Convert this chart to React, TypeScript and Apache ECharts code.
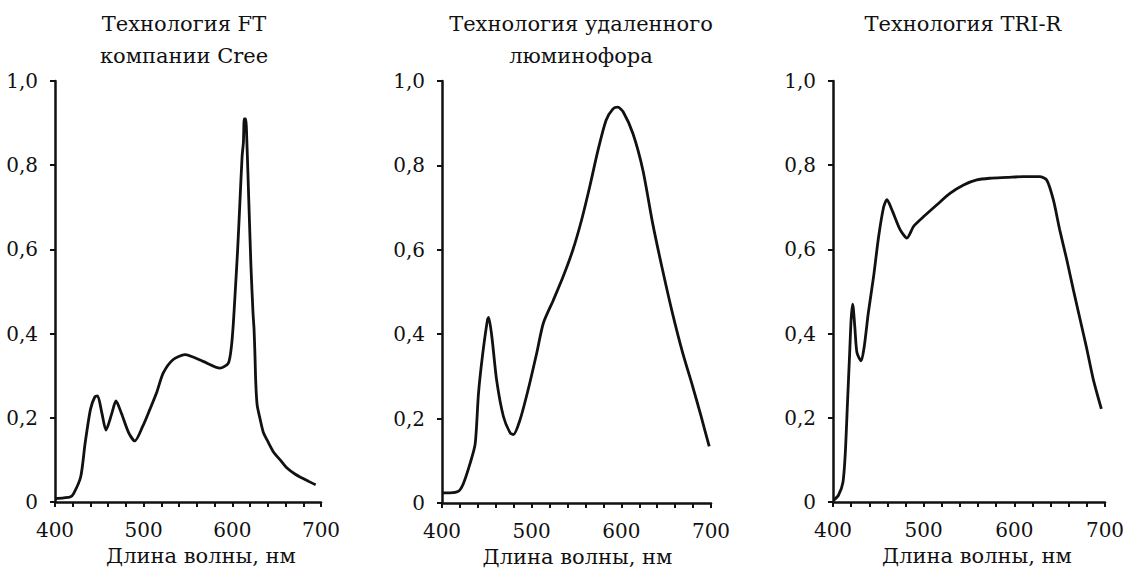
import React, { useEffect, useRef } from "react";
import * as echarts from "echarts";

// Panel titles
const panelTitles = [
  ["Технология FT", "компании Cree"],
  ["Технология удаленного", "люминофора"],
  ["Технология TRI-R"],
];
const xAxisName = "Длина волны, нм";
const xMajorTicks = [400, 500, 600, 700];

// Panel 1: Cree FT
const creeWl = [400, 410, 417, 421, 429, 434, 440, 445, 448, 453, 457.5, 464, 468.8, 475, 483, 490, 499, 507, 515, 522, 533, 546.6, 567, 586, 595.5, 599, 601, 603, 606, 608.5, 611, 612.5, 613.5, 615, 616.5, 618.5, 621, 623.3, 624.5, 625.5, 626.5, 628, 631, 635, 639, 646, 654, 662, 671, 686, 694];
const creeVal = [0.008, 0.01, 0.012, 0.02, 0.06, 0.14, 0.22, 0.25, 0.252, 0.21, 0.171, 0.21, 0.24, 0.21, 0.165, 0.145, 0.18, 0.22, 0.262, 0.306, 0.338, 0.35, 0.334, 0.318, 0.33, 0.37, 0.42, 0.49, 0.6, 0.71, 0.82, 0.855, 0.91, 0.91, 0.85, 0.72, 0.56, 0.45, 0.41, 0.35, 0.28, 0.23, 0.2, 0.165, 0.148, 0.12, 0.1, 0.08, 0.066, 0.049, 0.041];

// Panel 2: remote phosphor
const remoteWl = [400, 409, 418.5, 424, 431.5, 437, 440.7, 445.5, 450.7, 452, 455.6, 461, 468.5, 476, 479.6, 487, 496, 505.6, 513, 524, 535, 546, 555.6, 564.8, 574, 583, 590.7, 596, 602, 613, 624, 635, 646, 657, 668.5, 679.6, 689, 698];
const remoteVal = [0.024, 0.024, 0.028, 0.047, 0.095, 0.14, 0.26, 0.355, 0.434, 0.44, 0.394, 0.29, 0.205, 0.166, 0.162, 0.197, 0.268, 0.355, 0.426, 0.48, 0.536, 0.6, 0.67, 0.75, 0.836, 0.907, 0.934, 0.938, 0.927, 0.875, 0.789, 0.662, 0.552, 0.45, 0.355, 0.276, 0.205, 0.134];

// Panel 3: TRI-R
const triWl = [400.7, 406, 411, 413.6, 416, 418.4, 420, 421.7, 424, 426.4, 431, 434.5, 439, 444.8, 450.3, 455.8, 459.5, 465, 474, 481.5, 489, 500, 514.6, 529, 544, 558.6, 573, 592, 610, 628, 635.7, 643, 650, 657.8, 665, 672.5, 680, 687, 696];
const triVal = [0.004, 0.016, 0.047, 0.118, 0.237, 0.355, 0.434, 0.47, 0.418, 0.355, 0.335, 0.37, 0.45, 0.536, 0.63, 0.7, 0.718, 0.694, 0.647, 0.627, 0.655, 0.678, 0.706, 0.733, 0.753, 0.765, 0.769, 0.771, 0.773, 0.773, 0.765, 0.718, 0.647, 0.576, 0.505, 0.434, 0.363, 0.292, 0.221];

const seriesWl = [creeWl, remoteWl, triWl];
const seriesVal = [creeVal, remoteVal, triVal];

const FONT = "DejaVu Serif";
const grids = [
  { left: 55, top: 81, width: 266, height: 421, titleX: 184, nameShift: 26 },
  { left: 442, top: 81, width: 269, height: 422, titleX: 581, nameShift: 2 },
  { left: 833, top: 81, width: 272, height: 421, titleX: 963, nameShift: 16 },
];

export default function App() {
  const ref = useRef<HTMLDivElement>(null);
  useEffect(() => {
    if (!ref.current) return;
    const chart = echarts.init(ref.current, undefined, { renderer: "svg" });
    const graphics: any[] = [];
    panelTitles.forEach((lines, i) => {
      lines.forEach((t, j) => {
        graphics.push({
          type: "text",
          x: grids[i].titleX,
          y: 24 + j * 32,
          style: {
            text: t,
            font: `21px "${FONT}"`,
            fill: "#111",
            textAlign: "center",
            textVerticalAlign: "middle",
          },
        });
      });
    });
    const option: any = {
      animation: false,
      backgroundColor: "#ffffff",
      graphic: graphics,
      grid: grids.map((g) => ({
        left: g.left,
        top: g.top,
        width: g.width,
        height: g.height,
        containLabel: false,
        outerBoundsMode: "none",
      })),
      xAxis: grids.map((g, i) => ({
        type: "value",
        gridIndex: i,
        min: 400,
        max: 700,
        interval: 20,
        name: xAxisName,
        nameLocation: "middle",
        nameGap: 43,
        nameTextStyle: { fontFamily: FONT, fontSize: 21, color: "#111", padding: [0, 0, 0, g.nameShift] },
        axisLine: { show: true, onZero: false, lineStyle: { color: "#111", width: 2.5 } },
        axisTick: { show: true, length: 5, lineStyle: { color: "#111", width: 2 } },
        axisLabel: {
          fontFamily: FONT,
          fontSize: 20,
          color: "#111",
          margin: 18,
          formatter: (v: number) => (xMajorTicks.includes(v) ? String(v) : ""),
        },
        splitLine: { show: false },
      })),
      yAxis: grids.map((g, i) => ({
        type: "value",
        gridIndex: i,
        min: 0,
        max: 1,
        interval: 0.2,
        axisLine: { show: true, lineStyle: { color: "#111", width: 2.5 } },
        axisTick: { show: true, length: 5, lineStyle: { color: "#111", width: 2 } },
        axisLabel: {
          fontFamily: FONT,
          fontSize: 20,
          color: "#111",
          margin: 17,
          formatter: (v: number) => (v === 0 ? "0" : v.toFixed(1).replace(".", ",")),
        },
        splitLine: { show: false },
      })),
      series: seriesWl.map((wl, i) => ({
        type: "line",
        xAxisIndex: i,
        yAxisIndex: i,
        data: wl.map((x, k) => [x, seriesVal[i][k]]),
        showSymbol: false,
        smooth: 0.25,
        lineStyle: { color: "#111", width: 2.8 },
      })),
    };
    chart.setOption(option);
    return () => chart.dispose();
  }, []);
  return (
    <div
      ref={ref}
      style={{ position: "fixed", left: 0, top: 0, width: 1124, height: 571 }}
    />
  );
}
